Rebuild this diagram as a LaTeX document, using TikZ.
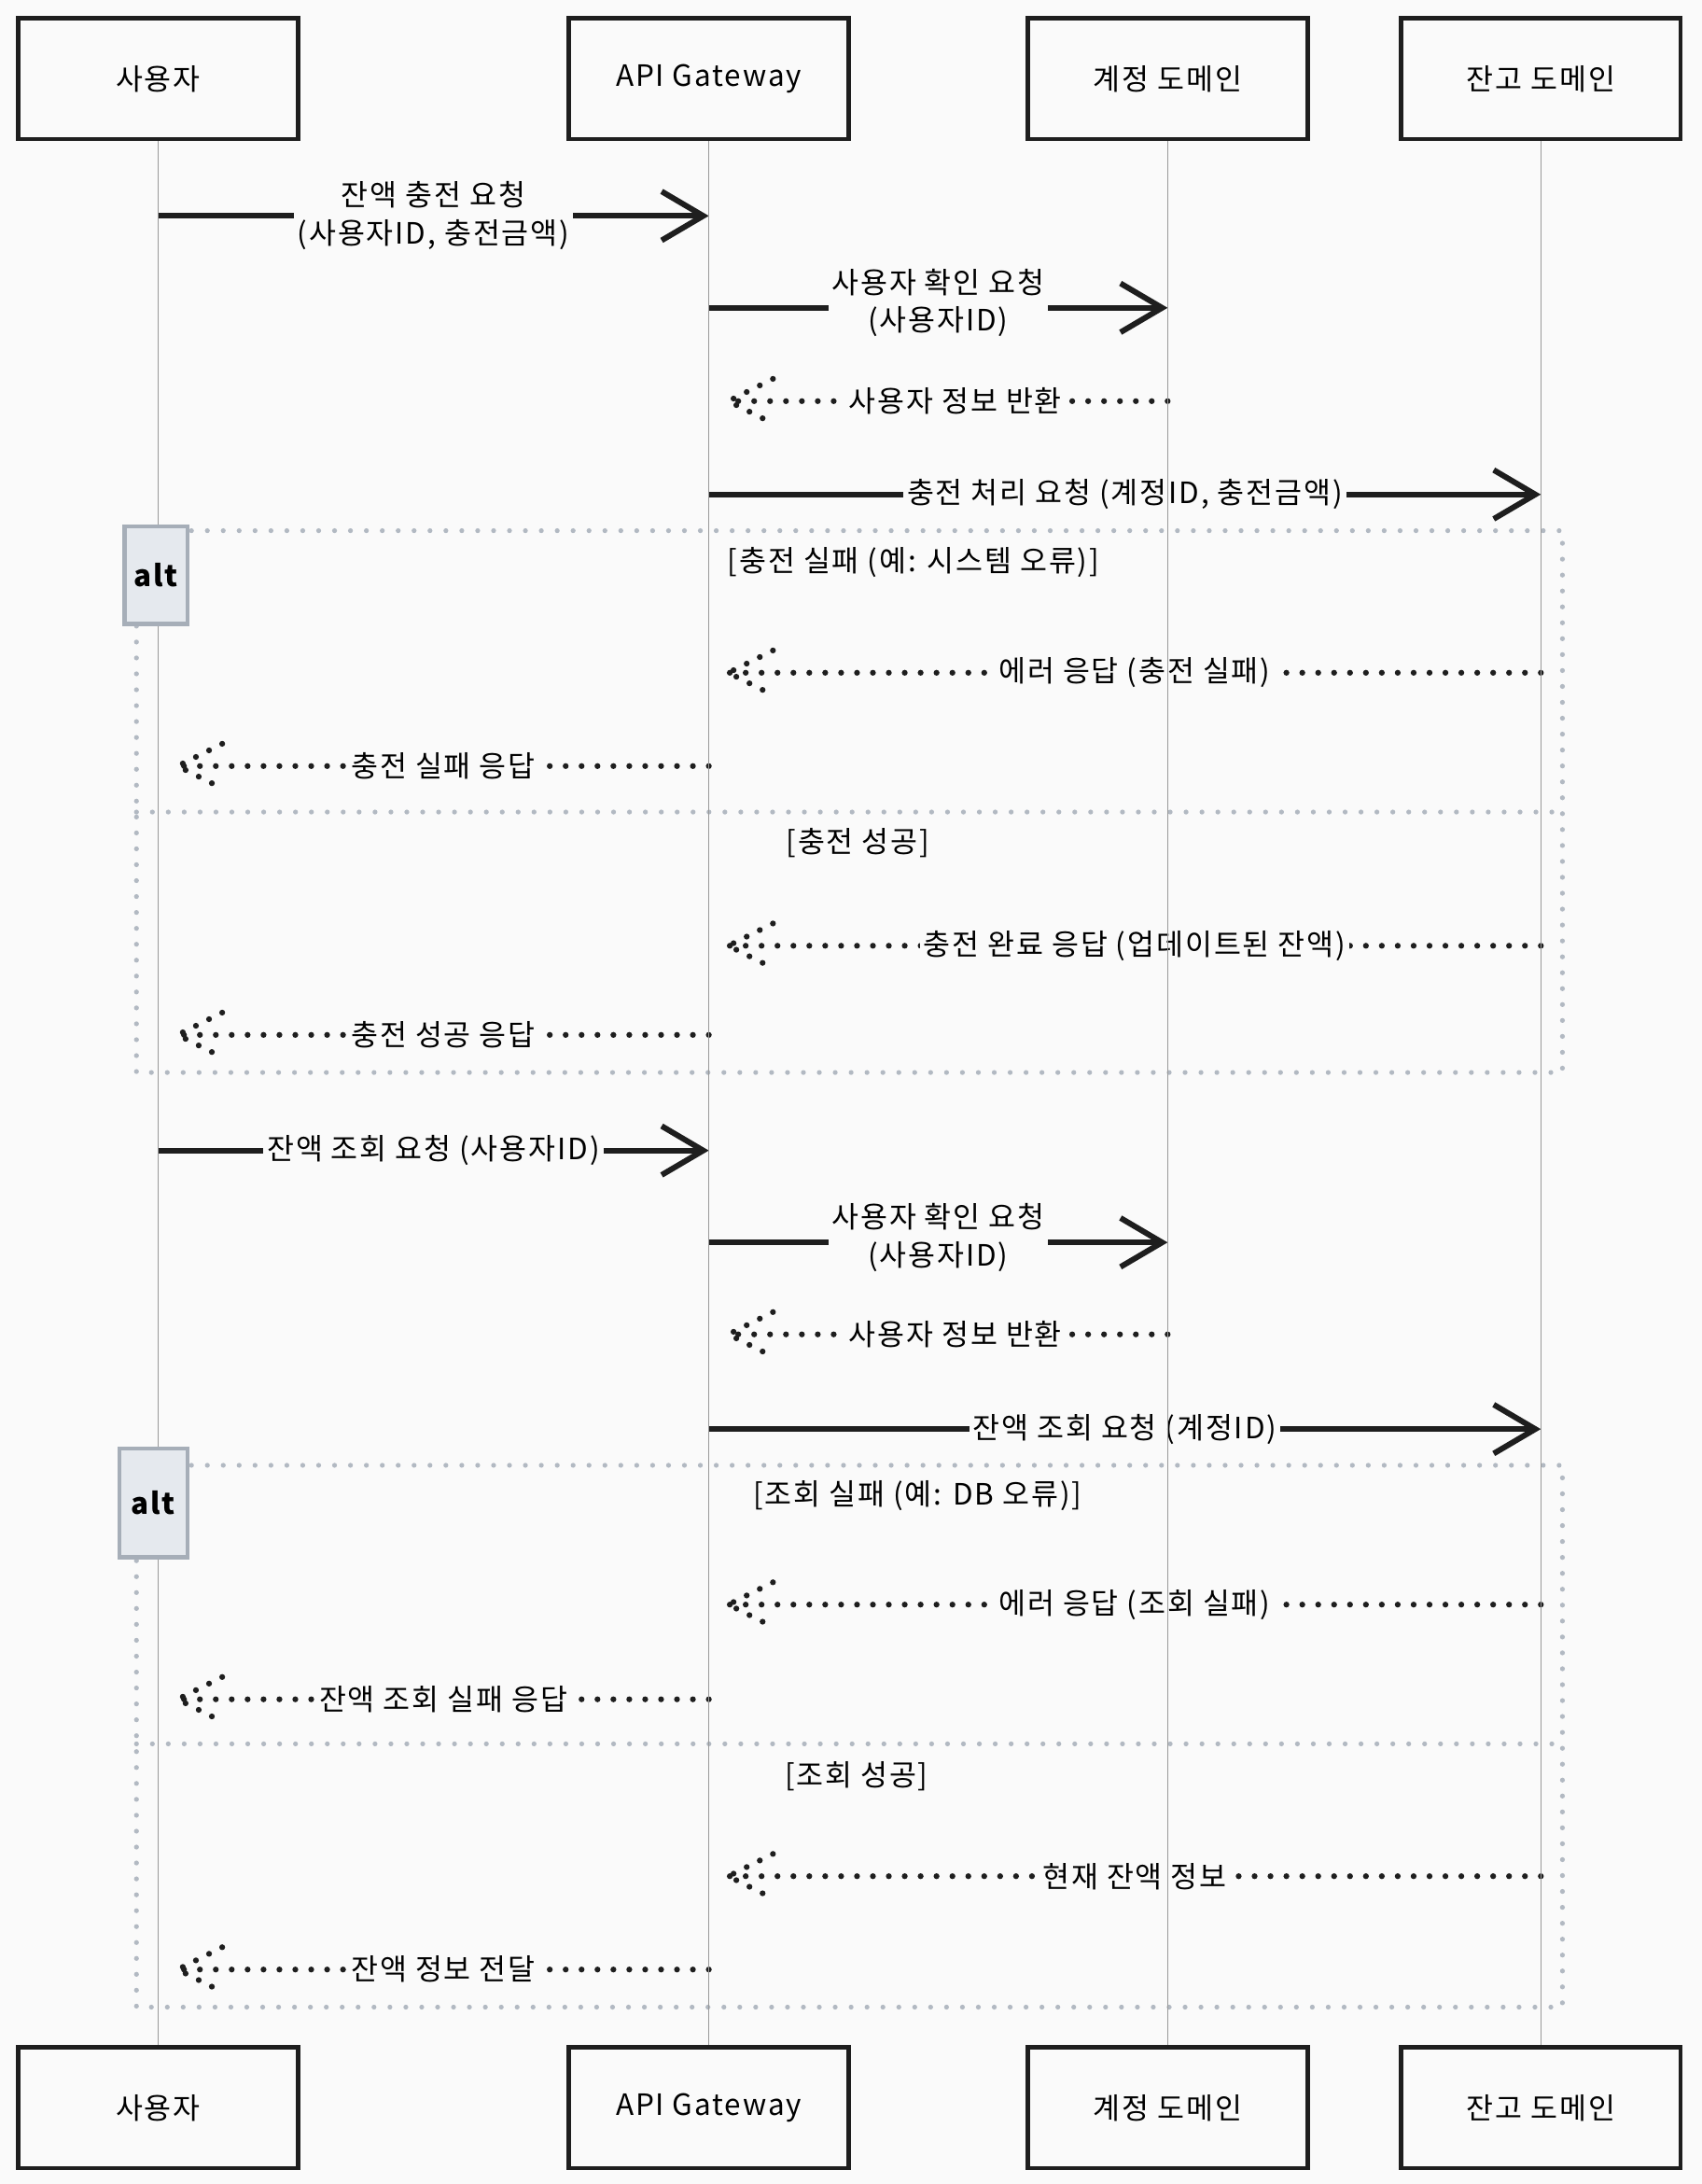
\documentclass[tikz,border=0pt]{standalone}
\usepackage{fontspec}
\setmainfont[LetterSpace=6]{Noto Sans CJK KR}
\usetikzlibrary{positioning, arrows.meta, decorations.markings}
\definecolor{paper}{RGB}{250,250,250}
\definecolor{ink}{RGB}{30,30,30}
\definecolor{frameline}{RGB}{178,185,194}
\definecolor{altfill}{RGB}{229,233,238}
\definecolor{altline}{RGB}{166,174,184}
\tikzset{
	x=0.02cm, y=-0.02cm, % one unit is one pixel of the sketch, y runs downwards
	every node/.style={font=\fontsize{12}{15.5}\selectfont},
	actor/.style={draw=ink, line width=1.7pt, fill=paper, minimum width=4.02cm, minimum height=1.74cm},
	lifeline/.style={draw=black!40, line width=0.6pt},
	call/.style={draw=ink, line width=2.3pt, -{Straight Barb[length=17pt, width=20pt]}}, % solid request
	reply/.style={draw=ink, line width=2.4pt, line cap=round, dash pattern=on 0pt off 6.5pt,
		postaction={decorate}, decoration={markings, mark=at position 1 with {
			\draw[ink, line width=2.4pt, line cap=round, dash pattern=on 0pt off 6pt] (-32,16) -- (0,0) -- (-32,-16);}}}, % dotted answer
	msg/.style={fill=paper, align=center, inner sep=1.5pt},
	frame/.style={draw=frameline, line width=2pt, line cap=round, dash pattern=on 0pt off 6.5pt},
	altbox/.style={draw=altline, line width=1.6pt, fill=altfill, minimum width=0.9cm, minimum height=1.4cm, font=\fontsize{12}{14}\selectfont\bfseries},
	guard/.style={inner sep=1pt},
}
\begin{document}
\begin{tikzpicture}
	\fill[paper] (0,0) rectangle (1222,1568);
	\useasboundingbox (0,0) rectangle (1222,1568);

	% participants
	\node[actor] (u) at (113.5,56.5) {사용자};
	\node[actor] (g) at (509,56.5) {API Gateway};
	\node[actor] (a) at (838.5,56.5) {계정 도메인};
	\node[actor] (b) at (1106.5,56.5) {잔고 도메인};
	\node[actor, below=27.34cm of u] (u2) {사용자};
	\node[actor, below=27.34cm of g] (g2) {API Gateway};
	\node[actor, below=27.34cm of a] (a2) {계정 도메인};
	\node[actor, below=27.34cm of b] (b2) {잔고 도메인};

	% alt frames
	\draw[frame] (98,381) rectangle (1122,770);
	\draw[frame] (98,583) -- (1122,583);
	\draw[frame] (98,1052) rectangle (1122,1441);
	\draw[frame] (98,1252) -- (1122,1252);
	\node[guard] (c1) at (656,404) {[충전 실패 (예: 시스템 오류)]};
	\node[guard] (c2) at (616,605) {[충전 성공]};
	\node[guard] (c3) at (659,1074) {[조회 실패 (예: DB 오류)]};
	\node[guard] (c4) at (615,1275) {[조회 성공]};

	% charge
	\draw[call] (u |- 0,155) -- node[msg] {잔액 충전 요청\\(사용자ID, 충전금액)} (g |- 0,155);
	\draw[call] (g |- 0,221) -- node[msg, yshift=2pt] {사용자 확인 요청\\(사용자ID)} (a |- 0,221);
	\draw[reply] (a |- 0,288) -- node[msg, xshift=3pt] {사용자 정보 반환} ([xshift=8] g |- 0,288);
	\draw[call] (g |- 0,355) -- node[msg] {충전 처리 요청 (계정ID, 충전금액)} (b |- 0,355);
	\draw[reply] (b |- 0,483) -- node[msg] {에러 응답 (충전 실패)} ([xshift=8] g |- 0,483);
	\draw[reply] (g |- 0,550) -- node[msg] {충전 실패 응답} ([xshift=8] u |- 0,550);
	\draw[reply] (b |- 0,679) -- node[msg] {충전 완료 응답 (업데이트된 잔액)} ([xshift=8] g |- 0,679);
	\draw[reply] (g |- 0,743) -- node[msg] {충전 성공 응답} ([xshift=8] u |- 0,743);

	% balance
	\draw[call] (u |- 0,826) -- node[msg] {잔액 조회 요청 (사용자ID)} (g |- 0,826);
	\draw[call] (g |- 0,892) -- node[msg, yshift=2pt] {사용자 확인 요청\\(사용자ID)} (a |- 0,892);
	\draw[reply] (a |- 0,958) -- node[msg, xshift=3pt] {사용자 정보 반환} ([xshift=8] g |- 0,958);
	\draw[call] (g |- 0,1026) -- node[msg] {잔액 조회 요청 (계정ID)} (b |- 0,1026);
	\draw[reply] (b |- 0,1152) -- node[msg] {에러 응답 (조회 실패)} ([xshift=8] g |- 0,1152);
	\draw[reply] (g |- 0,1220) -- node[msg] {잔액 조회 실패 응답} ([xshift=8] u |- 0,1220);
	\draw[reply] (b |- 0,1347) -- node[msg] {현재 잔액 정보} ([xshift=8] g |- 0,1347);
	\draw[reply] (g |- 0,1414) -- node[msg] {잔액 정보 전달} ([xshift=8] u |- 0,1414);

	% lifelines
	\draw[lifeline] (u.south) -- (u2.north);
	\draw[lifeline] (g.south) -- (g2.north);
	\draw[lifeline] (a.south) -- (a2.north);
	\draw[lifeline] (b.south) -- (b2.north);

	\node[altbox] (alt1) at (112,413) {alt};
	\node[altbox, minimum width=0.98cm, minimum height=1.56cm] (alt2) at (110,1079) {alt};
\end{tikzpicture}
\end{document}
